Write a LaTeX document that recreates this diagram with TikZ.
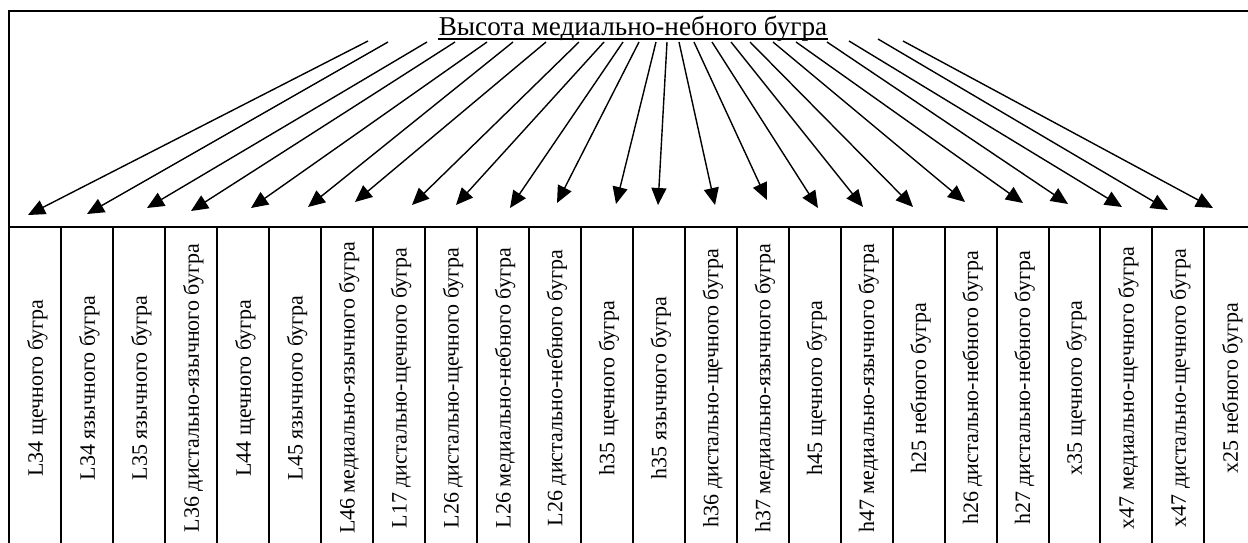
\documentclass[tikz,border=0pt]{standalone}
\usepackage{fontspec}
\setmainfont{Liberation Serif}
\usetikzlibrary{arrows.meta}
\begin{document}
\begin{tikzpicture}[x=0.5pt,y=-0.5pt,
  frame/.style={line width=1pt},
  arr/.style={-{Triangle[length=8.5pt,width=7.5pt]},line width=0.7pt},
  lbl/.style={rotate=90,font=\fontsize{11}{13}\selectfont,inner sep=0pt},
  ttl/.style={font=\fontsize{13.6}{16}\selectfont,anchor=base,inner sep=0pt}]
\useasboundingbox (0,0) rectangle (1248,542);
\begin{scope}
\clip (0,0) rectangle (1248,542);
\draw[frame] (9,560) -- (9,11) -- (1260,11);
\draw[frame] (9,227) -- (1260,227);
\foreach \i in {1,...,23} \draw[frame] ({9.5+51.95*\i},227) -- ({9.5+51.95*\i},560);
\end{scope}
\node[ttl] (title) at (633,35) {Высота медиально-небного бугра};
\draw[line width=0.6pt] ([yshift=-2pt]title.base west) -- ([yshift=-2pt]title.base east);
\foreach \t [count=\i] in {
  L34 щечного бугра,
  L34 язычного бугра,
  L35 язычного бугра,
  L36 дистально-язычного бугра,
  L44 щечного бугра,
  L45 язычного бугра,
  L46 медиально-язычного бугра,
  L17 дистально-щечного бугра,
  L26 дистально-щечного бугра,
  L26 медиально-небного бугра,
  L26 дистально-небного бугра,
  h35 щечного бугра,
  h35 язычного бугра,
  h36 дистально-щечного бугра,
  h37 медиально-язычного бугра,
  h45 щечного бугра,
  h47 медиально-язычного бугра,
  h25 небного бугра,
  h26 дистально-небного бугра,
  h27 дистально-небного бугра,
  x35 щечного бугра,
  x47 медиально-щечного бугра,
  x47 дистально-щечного бугра,
  x25 небного бугра}
  \node[lbl] (c\i) at ({9.5+51.95*(\i-0.5)+2},388) {\t};
\foreach \sx/\sy/\tx/\ty [count=\i] in {
  368/41/28/215, 388/42/87/214, 427/42/147/208, 455/42/191/211,
  487/42/251/208, 513/42/308/207, 546/42/355/202, 579/42/412/205,
  604/42/456/205, 623/42/510/208, 639/42/557/203, 656/42/616/204,
  667/42/658/205, 679/42/715/205, 694/42/767/200, 712/42/818/208,
  731/42/863/207, 750/42/913/207, 773/42/965/202, 796/42/1023/203,
  827/42/1068/204, 849/41/1122/207, 878/39/1168/210, 903/41/1213/208}
{
  \coordinate (s\i) at (\sx,\sy);
  \coordinate (t\i) at (\tx,\ty);
  \draw[arr] (s\i) -- (t\i);
}
\end{tikzpicture}
\end{document}
